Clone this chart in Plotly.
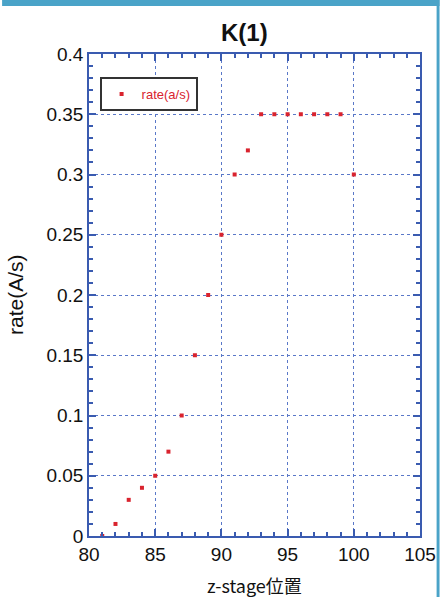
import plotly.graph_objects as go

z_stage = [81, 82, 83, 84, 85, 86, 87, 88, 89, 90, 91, 92, 93, 94, 95, 96, 97, 98, 99, 100]
rate = [0.0, 0.01, 0.03, 0.04, 0.05, 0.07, 0.10, 0.15, 0.20, 0.25, 0.30, 0.32,
        0.35, 0.35, 0.35, 0.35, 0.35, 0.35, 0.35, 0.30]

x_ticks = [80, 85, 90, 95, 100, 105]
y_ticks = [0, 0.05, 0.1, 0.15, 0.2, 0.25, 0.3, 0.35, 0.4]
y_tick_text = ["0", "0.05", "0.1", "0.15", "0.2", "0.25", "0.3", "0.35", "0.4"]

axis_blue = "#3a5bb0"
grid_blue = "#5a78c8"
red = "#d9232e"
teal = "#4aa3c8"

fig = go.Figure()
fig.add_trace(go.Scatter(
    x=z_stage, y=rate, mode="markers", name="rate(a/s)", cliponaxis=False,
    marker=dict(symbol="square", size=4, color=red, line=dict(width=0)),
))

axis_common = dict(
    showline=True, linecolor=axis_blue, linewidth=1.5, mirror="ticks",
    ticks="inside", ticklen=7, tickwidth=1.5, tickcolor=axis_blue,
    showgrid=True, gridcolor=grid_blue, griddash="dot", gridwidth=1,
    zeroline=False,
    tickfont=dict(family="Liberation Sans, Arial", size=19, color="#111"),
)

fig.update_xaxes(
    range=[80, 105], tickvals=x_ticks,
    minor=dict(dtick=1, ticks="inside", ticklen=4, tickcolor=axis_blue, showgrid=False),
    **axis_common,
)
fig.update_yaxes(
    range=[0, 0.4], tickvals=y_ticks, ticktext=y_tick_text,
    minor=dict(dtick=0.01, ticks="inside", ticklen=4, tickcolor=axis_blue, showgrid=False),
    **axis_common,
)

fig.update_layout(
    width=448, height=597,
    margin=dict(l=89, r=20, t=54, b=61),
    paper_bgcolor="white", plot_bgcolor="white",
    showlegend=True,
    legend=dict(
        x=0.032, y=0.952, xanchor="left", yanchor="top",
        bordercolor="#333", borderwidth=2, bgcolor="white",
        font=dict(family="Liberation Sans Narrow, Liberation Sans, Arial", size=13, color=red),
        itemsizing="trace",
    ),
    annotations=[
        dict(text="<b>K(1)</b>", xref="paper", yref="paper", x=0.47, y=1.0,
             yshift=22, showarrow=False, xanchor="center", yanchor="middle",
             font=dict(family="Liberation Sans, Arial", size=24, color="#111")),
        dict(text="z-stage位置", xref="paper", yref="paper", x=0.5, y=0,
             yshift=-49, showarrow=False, xanchor="center", yanchor="middle",
             font=dict(family="Noto Sans CJK JP", size=18, color="#111")),
        dict(text="rate(A/s)", xref="paper", yref="paper", x=0, y=0.5,
             xshift=-74, showarrow=False, xanchor="center", yanchor="middle",
             textangle=-90,
             font=dict(family="Liberation Sans, Arial", size=21, color="#111")),
    ],
)

# teal frame strips (top and right), in pixel terms converted to paper coords
pw = 448 - 89 - 20
ph = 597 - 54 - 61
fig.add_shape(type="rect", xref="paper", yref="paper", layer="above",
              x0=-89 / pw, x1=(448 - 89) / pw, y0=1 + (54 - 6) / ph, y1=1 + 54 / ph,
              fillcolor=teal, line=dict(width=0))
fig.add_shape(type="rect", xref="paper", yref="paper", layer="above",
              x0=(445 - 89) / pw, x1=(448 - 89) / pw, y0=-61 / ph, y1=1 + 54 / ph,
              fillcolor=teal, line=dict(width=0))

fig.write_html(
    "out.html",
    config={"displayModeBar": False},
    post_script="document.body.style.margin='0';document.body.style.overflow='hidden';",
)
